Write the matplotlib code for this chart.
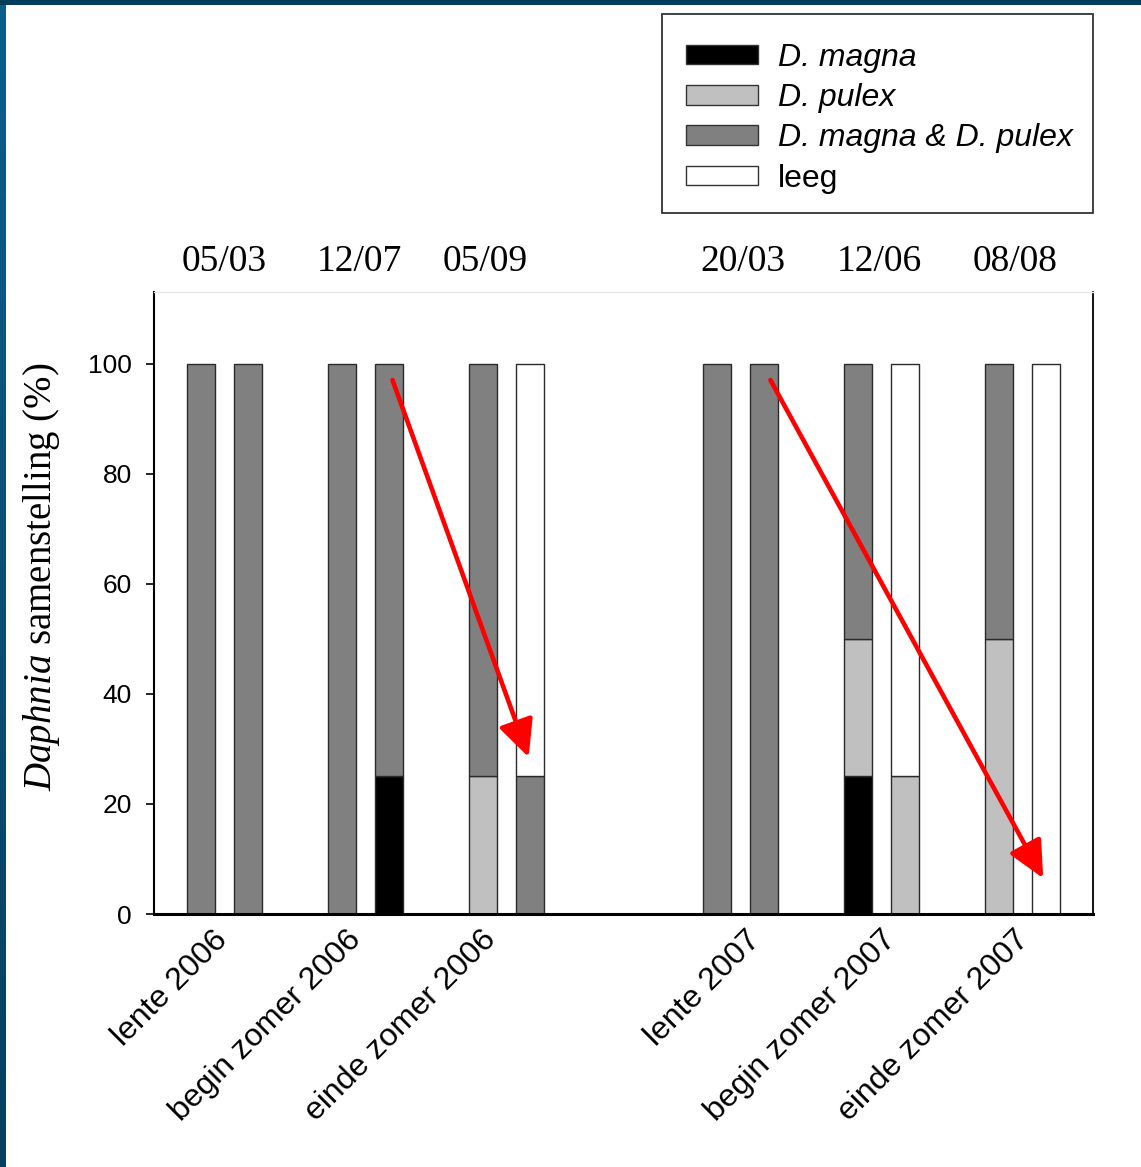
import numpy as np
import matplotlib
matplotlib.use("Agg")
import matplotlib.pyplot as plt
from matplotlib.patches import Patch, Rectangle
from matplotlib.colors import LinearSegmentedColormap
from matplotlib.transforms import ScaledTranslation

plt.rcParams["mathtext.fontset"] = "custom"
plt.rcParams["mathtext.it"] = "Liberation Serif:italic"
plt.rcParams["mathtext.rm"] = "Liberation Serif"

# ---------------- data ----------------
seasons = ["lente 2006", "begin zomer 2006", "einde zomer 2006",
           "lente 2007", "begin zomer 2007", "einde zomer 2007"]
dates = ["05/03", "12/07", "05/09", "20/03", "12/06", "08/08"]
series_names = ["D. magna", "D. pulex", "D. magna & D. pulex", "leeg"]
# two bars (ponds) per season, values in %
magna = [0, 0, 0, 25, 0, 0, 0, 0, 25, 0, 0, 0]
pulex = [0, 0, 0, 0, 25, 0, 0, 0, 25, 25, 50, 0]
mix   = [100, 100, 100, 75, 75, 25, 100, 100, 50, 0, 50, 0]
leeg  = [0, 0, 0, 0, 0, 75, 0, 0, 0, 75, 0, 100]
yticks = [0, 20, 40, 60, 80, 100]

# arrow annotations (start, tip) in data coordinates
arrow_starts = [(4.08, 97), (12.13, 97)]
arrow_tips = [(6.98, 28.5), (17.94, 6.5)]

# ---------------- layout ----------------
colors = ["#000000", "#c0c0c0", "#808080", "#ffffff"]
group_starts = [0, 3, 6, 11, 14, 17]
# small label placement offsets (in bar-slot units) as in the original slide
season_label_offsets = [0.02, -0.13, -0.26, 0.38, 0.26, 0.09]
date_label_offsets = [-0.01, -0.12, -0.44, 0.05, -0.05, -0.16]

W, H = 1141, 1167
fig = plt.figure(figsize=(W / 100, H / 100), dpi=100)
fig.patch.set_facecolor("white")

ax = fig.add_axes([154 / W, 1 - 914 / H, (1093 - 154) / W, (914 - 292) / H])

positions = []
for g in group_starts:
    positions += [g, g + 1]
positions = np.array(positions, dtype=float)

bottom = np.zeros(len(positions))
for vals, col in zip([magna, pulex, mix, leeg], colors):
    vals = np.array(vals, dtype=float)
    mask = vals > 0
    ax.bar(positions[mask], vals[mask], width=0.6, bottom=bottom[mask],
           color=col, edgecolor="#2a2a2a", linewidth=1.0, zorder=2)
    bottom += vals

ax.set_xlim(-1, 19)
ax.set_ylim(0, 113)
ax.set_yticks(yticks)
ax.set_yticklabels([str(t) for t in yticks], fontfamily="Liberation Sans", fontsize=19)
ax.tick_params(axis="y", direction="out", length=6, width=1.2, pad=10)

centers = [g + 0.5 for g in group_starts]
ax.set_xticks([c + o for c, o in zip(centers, season_label_offsets)])
ax.set_xticklabels(seasons, rotation=45, ha="right", rotation_mode="anchor",
                   fontfamily="Liberation Sans", fontsize=23)
ax.tick_params(axis="x", length=0, pad=8)
shift = ScaledTranslation(-13 / 100, 0, fig.dpi_scale_trans)
for lbl in ax.get_xticklabels():
    lbl.set_transform(lbl.get_transform() + shift)

for c, o, d in zip(centers, date_label_offsets, dates):
    ax.text(c + o, 1.048, d, transform=ax.get_xaxis_transform(), ha="center",
            va="center", fontfamily="Liberation Serif", fontsize=27)

ax.spines["left"].set_linewidth(1.5)
ax.spines["bottom"].set_linewidth(2.2)
ax.spines["right"].set_linewidth(1.3)
ax.spines["top"].set_color("#e6e6e6")
ax.spines["top"].set_linewidth(1.0)

ax.set_ylabel(r"$\mathit{Daphnia}$ samenstelling (%)",
              fontfamily="Liberation Serif", fontsize=28)
ax.yaxis.set_label_coords(-0.098, 0.542)

for s, t in zip(arrow_starts, arrow_tips):
    ax.annotate("", xy=t, xytext=s,
                arrowprops=dict(arrowstyle="-|>,head_length=0.75,head_width=0.36",
                                color="#ff0000", lw=3.3, mutation_scale=30,
                                shrinkA=0, shrinkB=0),
                zorder=5)

# legend
handles = [Patch(facecolor=c, edgecolor="#333333", linewidth=1.0) for c in colors]
leg = fig.legend(handles, series_names, loc="upper left",
                 bbox_to_anchor=(670 / W, 1 - 27 / H), frameon=False,
                 borderpad=0, handlelength=2.25, handleheight=0.56,
                 handletextpad=0.62, labelspacing=0.32,
                 prop={"family": "Liberation Sans", "size": 23})
for i, txt in enumerate(leg.get_texts()):
    if i < 3:
        txt.set_fontstyle("italic")
fig.patches.append(Rectangle((662 / W, 1 - 213 / H), (1093 - 662) / W, (213 - 14) / H,
                             transform=fig.transFigure, fill=False,
                             edgecolor="#333333", linewidth=1.3))

# slide border (dark blue)
cmap = LinearSegmentedColormap.from_list("b", ["#05405f", "#0b5f8f"])
bax = fig.add_axes([0, 0, 6 / W, 1])
bax.imshow(np.linspace(0, 1, 256)[:, None][::-1], aspect="auto", cmap=cmap)
bax.axis("off")
tax = fig.add_axes([0, 1 - 5 / H, 1, 5 / H])
tax.set_facecolor("#033f5d")
tax.set_xticks([]); tax.set_yticks([])
for sp in tax.spines.values():
    sp.set_visible(False)

fig.savefig("out.png", dpi=100)
